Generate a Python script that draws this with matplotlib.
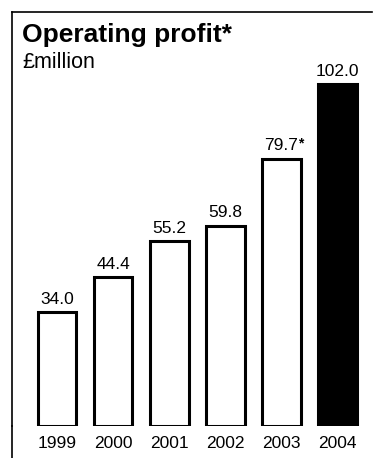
import matplotlib
matplotlib.use("Agg")
import matplotlib.pyplot as plt
from matplotlib.lines import Line2D

years = ["1999", "2000", "2001", "2002", "2003", "2004"]
profit = [34.0, 44.4, 55.2, 59.8, 79.7, 102.0]
footnoted = [False, False, False, False, True, False]
highlight = [False, False, False, False, False, True]

W, H = 377, 458
fig = plt.figure(figsize=(W / 100, H / 100), dpi=100)
plt.rcParams["font.family"] = ["Liberation Sans", "DejaVu Sans"]

# plot area in pixel terms: baseline at y=426, top frame at y=12
left_px, right_px, top_px, base_px = 12, 372, 12, 426
ax = fig.add_axes([left_px / W, (H - base_px) / H,
                   (right_px - left_px) / W, (base_px - top_px) / H])
px_per_unit = 3.35
ax.set_ylim(0, (base_px - top_px) / px_per_unit)
step = 56.1
c0 = 57
ax.set_xlim((left_px - c0) / step, (right_px - c0) / step)

x = list(range(len(years)))
colors = ["black" if h else "white" for h in highlight]
ax.bar(x, profit, width=0.69, color=colors, edgecolor="black", linewidth=2.2,
       zorder=3)

for xi, v, fn in zip(x, profit, footnoted):
    ax.annotate(f"{v:.1f}", (xi, v), xytext=(0, 4), textcoords="offset points",
                ha="center", va="bottom", fontsize=12.5)
    if fn:
        ax.annotate("*", (xi, v), xytext=(14, 11), textcoords="offset points",
                    ha="center", va="center", fontsize=10, fontweight="bold")

for xi, y in zip(x, years):
    ax.text(xi, -17 / px_per_unit, y, ha="center", va="center", fontsize=12.5,
            clip_on=False)

for s in ("right", "bottom"):
    ax.spines[s].set_visible(False)
for s in ("left", "top"):
    ax.spines[s].set_linewidth(1.2)
ax.set_xticks([])
ax.set_yticks([])

# extend the left rule to the bottom edge
fig.add_artist(Line2D([left_px / W, left_px / W], [0, (H - base_px) / H],
                      color="black", lw=1.2))

fig.text(22 / W, 1 - 35 / H, "Operating profit*", fontsize=19, fontweight="bold",
         ha="left", va="center")
fig.text(22 / W, 1 - 63 / H, "£million", fontsize=15.5, ha="left", va="center")

fig.savefig("out.png", dpi=100)
